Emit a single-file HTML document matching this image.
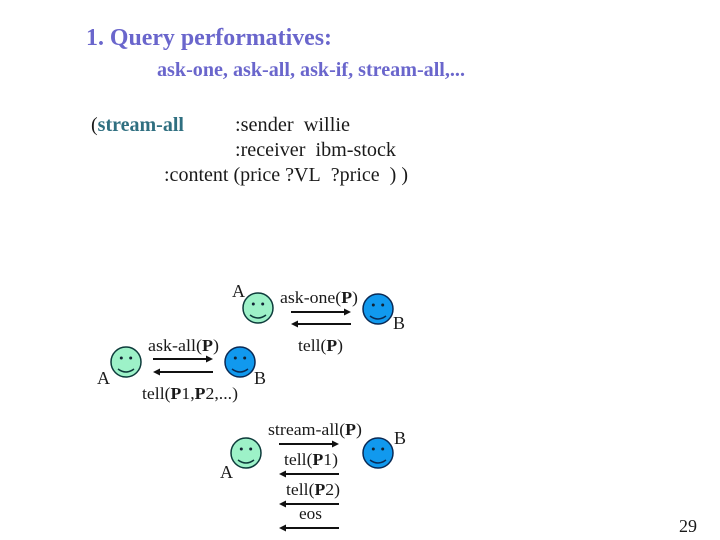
<!DOCTYPE html>
<html>
<head>
<meta charset="utf-8">
<style>
html,body{margin:0;padding:0;background:#fff;width:720px;height:540px;overflow:hidden}
svg{display:block}
text{font-family:"Liberation Serif",serif;fill:#1a1a1a}
.b{font-weight:bold}
.s{fill:#6a66cc;font-weight:bold}
</style>
</head>
<body>
<svg width="720" height="540" viewBox="0 0 720 540" xmlns="http://www.w3.org/2000/svg">
<defs>
<g id="gf">
<circle r="15" fill="#9df2c8" stroke="#0d3b3b" stroke-width="1.5"/>
<circle cx="-4.7" cy="-4" r="1.5" fill="#123"/><circle cx="4.7" cy="-4" r="1.5" fill="#123"/>
<path d="M-8 7Q0 13 8 7" fill="none" stroke="#0d3b3b" stroke-width="1.5"/>
</g>
<g id="bf">
<circle r="15" fill="#1199ee" stroke="#0a2a55" stroke-width="1.5"/>
<circle cx="-4.7" cy="-4" r="1.5" fill="#123"/><circle cx="4.7" cy="-4" r="1.5" fill="#123"/>
<path d="M-8 7Q0 13 8 7" fill="none" stroke="#0a2a55" stroke-width="1.5"/>
</g>
<g id="r"><path d="M0 0H56" stroke="#111" stroke-width="2"/><path d="M60 0L53 -3.5V3.5Z" fill="#111"/></g>
<g id="l"><path d="M4 0H60" stroke="#111" stroke-width="2"/><path d="M0 0L7 -3.5V3.5Z" fill="#111"/></g>
</defs>

<text class="s" x="86" y="45" font-size="24" textLength="246" lengthAdjust="spacingAndGlyphs">1. Query performatives:</text>
<text class="s" x="157" y="76" font-size="20" textLength="308" lengthAdjust="spacingAndGlyphs">ask-one, ask-all, ask-if, stream-all,...</text>

<text x="91" y="131" font-size="20">(<tspan class="b" style="fill:#2f6f80">stream-all</tspan></text>
<text x="235" y="131" font-size="20" textLength="115" lengthAdjust="spacingAndGlyphs">:sender&#160; willie</text>
<text x="235" y="156" font-size="20" textLength="161" lengthAdjust="spacingAndGlyphs">:receiver&#160; ibm-stock</text>
<text x="164" y="181" font-size="20" textLength="244" lengthAdjust="spacingAndGlyphs">:content (price ?VL&#160; ?price&#160; ) )</text>

<use href="#gf" x="258" y="308"/><use href="#bf" x="378" y="309"/>
<text x="232" y="297" font-size="18">A</text>
<text x="393" y="329" font-size="18">B</text>
<text x="280" y="303" font-size="17" textLength="78" lengthAdjust="spacingAndGlyphs">ask-one(<tspan class="b">P</tspan>)</text>
<text x="298" y="351" font-size="17" textLength="45" lengthAdjust="spacingAndGlyphs">tell(<tspan class="b">P</tspan>)</text>
<use href="#r" x="291" y="312"/><use href="#l" x="291" y="324"/>

<use href="#gf" x="126" y="362"/><use href="#bf" x="240" y="362"/>
<text x="97" y="384" font-size="18">A</text>
<text x="254" y="384" font-size="18">B</text>
<text x="148" y="351" font-size="17" textLength="71" lengthAdjust="spacingAndGlyphs">ask-all(<tspan class="b">P</tspan>)</text>
<text x="142" y="399" font-size="17" textLength="96" lengthAdjust="spacingAndGlyphs">tell(<tspan class="b">P</tspan>1,<tspan class="b">P</tspan>2,...)</text>
<use href="#r" x="153" y="359"/><use href="#l" x="153" y="372"/>

<use href="#gf" x="246" y="453"/><use href="#bf" x="378" y="453"/>
<text x="220" y="478" font-size="18">A</text>
<text x="394" y="444" font-size="18">B</text>
<text x="268" y="435" font-size="17" textLength="94" lengthAdjust="spacingAndGlyphs">stream-all(<tspan class="b">P</tspan>)</text>
<text x="284" y="465" font-size="17" textLength="54" lengthAdjust="spacingAndGlyphs">tell(<tspan class="b">P</tspan>1)</text>
<text x="286" y="495" font-size="17" textLength="54" lengthAdjust="spacingAndGlyphs">tell(<tspan class="b">P</tspan>2)</text>
<text x="299" y="519" font-size="17" textLength="23" lengthAdjust="spacingAndGlyphs">eos</text>
<use href="#r" x="279" y="444"/>
<use href="#l" x="279" y="474"/>
<use href="#l" x="279" y="504"/>
<use href="#l" x="279" y="528"/>

<text x="679" y="532" font-size="18">29</text>
</svg>
</body>
</html>
